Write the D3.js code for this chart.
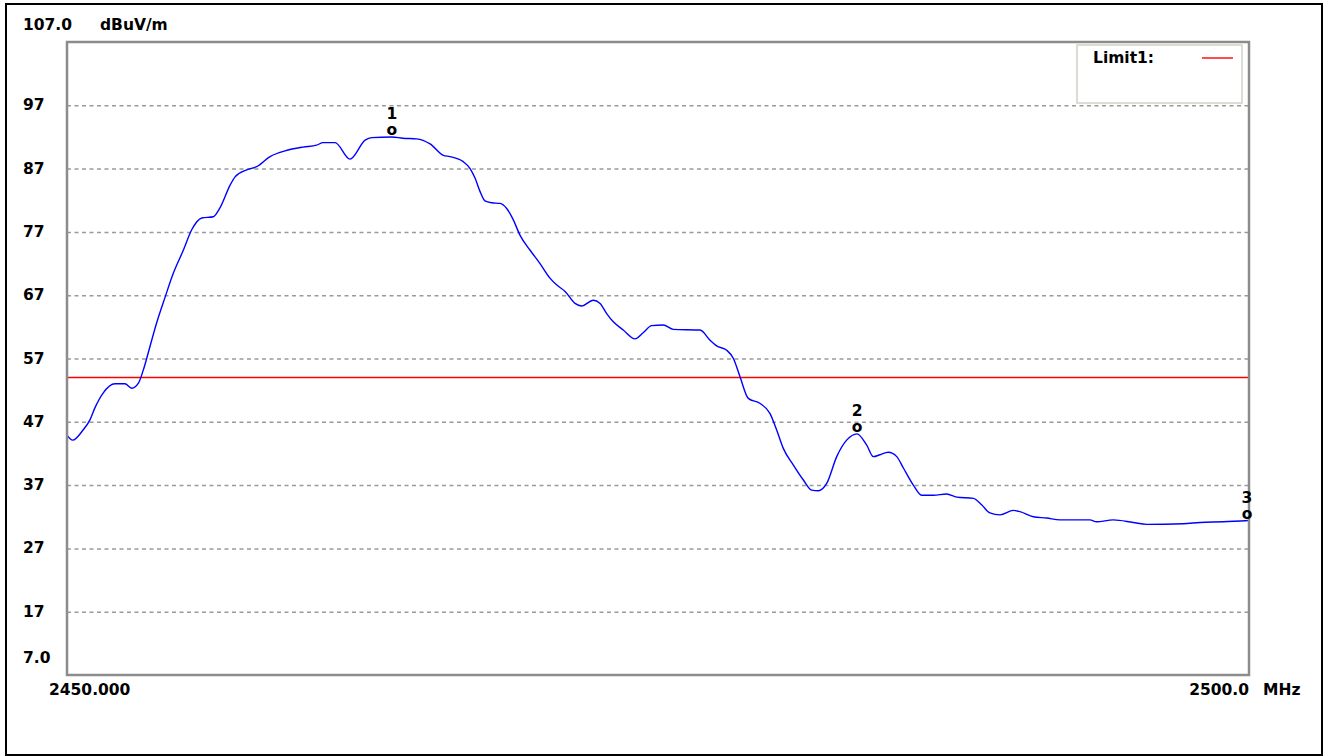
<!DOCTYPE html>
<html>
<head>
<meta charset="utf-8">
<script src="https://cdn.jsdelivr.net/npm/d3@7"></script>
<style>
  html, body { margin: 0; padding: 0; background: #fff; }
  svg { display: block; }
  text { font-family: "DejaVu Sans", Verdana, sans-serif; font-weight: bold; font-size: 15.5px; fill: #000; }
</style>
</head>
<body>
<svg id="chart" width="1325" height="756"></svg>
<script>
// Frequency axis (MHz) and measured field strength (dBuV/m)
const freqMHz = [
  2450.00, 2450.24, 2450.68, 2450.97, 2451.18, 2451.52, 2452.03, 2452.45, 2452.74, 2453.02,
  2453.23, 2453.51, 2453.79, 2454.15, 2454.50, 2454.92, 2455.27, 2455.70, 2456.19, 2456.47,
  2456.90, 2457.11, 2457.60, 2458.02, 2458.59, 2459.22, 2459.98, 2460.56, 2460.83, 2461.34,
  2461.97, 2462.61, 2462.89, 2463.74, 2464.21, 2464.79, 2465.36, 2465.92, 2466.20, 2466.76,
  2467.05, 2467.26, 2467.47, 2467.68, 2467.97, 2468.32, 2468.60, 2468.88, 2469.16, 2469.59,
  2470.01, 2470.43, 2470.72, 2471.07, 2471.49, 2471.77, 2472.26, 2472.55, 2472.83, 2473.11,
  2473.53, 2474.03, 2474.38, 2474.73, 2475.22, 2475.65, 2476.78, 2477.20, 2477.48, 2477.91,
  2478.19, 2478.47, 2478.82, 2479.32, 2479.74, 2480.02, 2480.30, 2480.72, 2481.15, 2481.50,
  2481.78, 2482.14, 2482.56, 2482.98, 2483.42, 2483.83, 2484.11, 2484.39, 2484.74, 2485.10,
  2485.38, 2485.80, 2486.15, 2486.65, 2487.21, 2487.64, 2488.34, 2488.69, 2489.04, 2489.47,
  2490.03, 2490.31, 2490.88, 2491.44, 2492.00, 2493.27, 2493.55, 2494.26, 2495.10, 2495.67,
  2497.22, 2497.93, 2498.91, 2500.00
];
const levelDb = [
  44.9, 44.1, 45.7, 47.3, 49.2, 51.5, 53.0, 53.0, 52.3, 53.1,
  55.2, 58.9, 62.6, 66.7, 70.5, 74.1, 77.3, 79.2, 79.4, 80.8,
  84.4, 85.7, 86.8, 87.3, 88.9, 89.8, 90.4, 90.7, 91.1, 91.1,
  88.5, 91.5, 91.9, 92.0, 91.8, 91.7, 90.9, 89.1, 88.9, 88.1,
  87.0, 85.5, 83.4, 81.9, 81.6, 81.5, 80.7, 78.9, 76.5, 74.1,
  72.0, 69.7, 68.6, 67.6, 65.7, 65.3, 66.2, 65.7, 64.1, 62.8,
  61.5, 60.1, 61.1, 62.2, 62.3, 61.6, 61.5, 59.9, 59.0, 58.3,
  57.0, 54.1, 50.7, 49.9, 48.3, 45.7, 42.8, 40.2, 37.8, 36.2,
  36.1, 37.3, 41.5, 44.1, 45.1, 43.3, 41.5, 41.8, 42.2, 41.5,
  39.7, 37.0, 35.4, 35.4, 35.6, 35.1, 34.9, 33.9, 32.6, 32.3,
  33.0, 32.8, 32.0, 31.8, 31.5, 31.5, 31.2, 31.5, 31.1, 30.8,
  30.9, 31.1, 31.2, 31.4
];

// Limit line
const limitName = "Limit1:";
const limitDb = 54.0;

// Marker readings
const markerIds = ["1", "2", "3"];
const markerFreq = [2463.74, 2483.42, 2500.00];
const markerDb = [92.0, 45.1, 31.4];

// Axis ticks and labels
const gridTicks = [97, 87, 77, 67, 57, 47, 37, 27, 17];
const yTopLabel = "107.0";
const yBottomLabel = "7.0";
const yUnit = "dBuV/m";
const xStartLabel = "2450.000";
const xEndLabel = "2500.0";
const xUnit = "MHz";
const yDomain = [7, 107];
const xDomain = [2450, 2500];

const svg = d3.select("#chart");
const W = 1325, H = 756;
const plot = { left: 67, top: 42, right: 1249, bottom: 675 };

const x = d3.scaleLinear().domain(xDomain).range([plot.left, plot.right]);
const y = d3.scaleLinear().domain(yDomain).range([plot.bottom, plot.top]);

// outer black border
svg.append("rect")
  .attr("x", 6).attr("y", 4).attr("width", W - 9).attr("height", H - 5)
  .attr("fill", "#fff").attr("stroke", "#000").attr("stroke-width", 2);

// dashed horizontal grid
const grid = svg.append("g")
  .attr("transform", `translate(${plot.left},0)`)
  .call(d3.axisRight(y).tickValues(gridTicks).tickSize(plot.right - plot.left).tickFormat(""));
grid.select(".domain").remove();
grid.selectAll(".tick line")
  .attr("stroke", "#9a9a9a").attr("stroke-width", 1.5).attr("stroke-dasharray", "4,3.5");

// y labels (left aligned)
svg.append("g").selectAll("text").data(gridTicks).join("text")
  .attr("x", 23).attr("y", d => y(d) + 5).text(d => d);
svg.append("text").attr("x", 23).attr("y", y(yDomain[1]) - 12).text(yTopLabel);
svg.append("text").attr("x", 100).attr("y", y(yDomain[1]) - 12).text(yUnit);
svg.append("text").attr("x", 23).attr("y", y(yDomain[0]) - 12).text(yBottomLabel);

// x labels
svg.append("text").attr("x", x(xDomain[0]) - 18).attr("y", plot.bottom + 20).text(xStartLabel);
svg.append("text").attr("x", x(xDomain[1])).attr("y", plot.bottom + 20)
  .attr("text-anchor", "end").text(xEndLabel);
svg.append("text").attr("x", x(xDomain[1]) + 14).attr("y", plot.bottom + 20).text(xUnit);

// limit line
svg.append("line")
  .attr("x1", plot.left).attr("x2", plot.right)
  .attr("y1", y(limitDb)).attr("y2", y(limitDb))
  .attr("stroke", "#ff0000").attr("stroke-width", 1.4);

// measured trace
const pts = freqMHz.map((f, i) => [f, levelDb[i]]);
svg.append("path")
  .datum(pts)
  .attr("fill", "none")
  .attr("stroke", "#0000ff")
  .attr("stroke-width", 1.4)
  .attr("d", d3.line().x(d => x(d[0])).y(d => y(d[1])).curve(d3.curveMonotoneX));

// plot frame
svg.append("rect")
  .attr("x", plot.left).attr("y", plot.top)
  .attr("width", plot.right - plot.left).attr("height", plot.bottom - plot.top)
  .attr("fill", "none").attr("stroke", "#8c8c8c").attr("stroke-width", 2.5);

// legend box
const lg = svg.append("g");
lg.append("rect")
  .attr("x", 1077).attr("y", 45).attr("width", 165).attr("height", 58)
  .attr("fill", "#fff").attr("stroke", "#d4d0c8").attr("stroke-width", 1.5);
lg.append("text").attr("x", 1093).attr("y", 63).attr("font-size", 14.5).text(limitName);
lg.append("line").attr("x1", 1202).attr("x2", 1233).attr("y1", 58).attr("y2", 58)
  .attr("stroke", "#ff0000").attr("stroke-width", 1.4);

// markers
const mk = svg.append("g").selectAll("g").data(markerIds).join("g");
mk.append("text")
  .attr("x", (d, i) => x(markerFreq[i]) - (i === 2 ? 2 : 0))
  .attr("y", (d, i) => y(markerDb[i]) - 18)
  .attr("text-anchor", "middle").text(d => d);
mk.append("text")
  .attr("x", (d, i) => x(markerFreq[i]) - (i === 2 ? 2 : 0))
  .attr("y", (d, i) => y(markerDb[i]) - 2)
  .attr("text-anchor", "middle").text("o");
</script>
</body>
</html>
